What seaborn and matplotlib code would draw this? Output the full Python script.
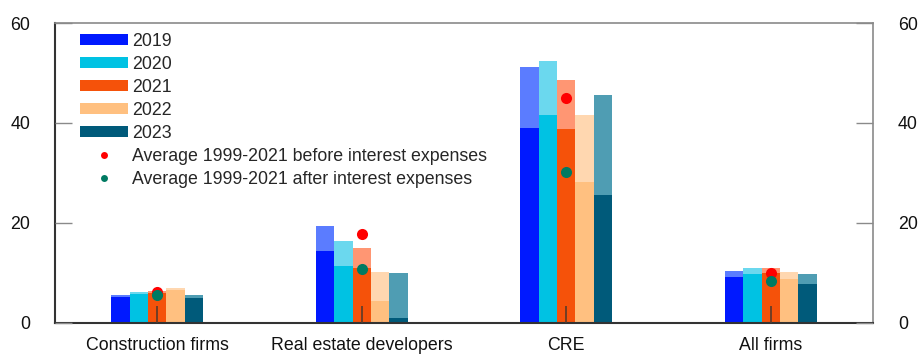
import matplotlib
matplotlib.use("Agg")
import matplotlib.pyplot as plt
from matplotlib.patches import Patch
from matplotlib.lines import Line2D
import pandas as pd
import seaborn as sns

sns.set_theme(style="white")
plt.rcParams["font.family"] = ["Liberation Sans", "DejaVu Sans"]

# Sectors and years
sectors = ["Construction firms", "Real estate developers", "CRE", "All firms"]
years = ["2019", "2020", "2021", "2022", "2023"]

# Return ratio before interest expenses, per year (rows) and sector (columns)
before_interest = {
    "2019": [5.5, 19.3, 51.1, 10.3],
    "2020": [6.1, 16.3, 52.3, 10.9],
    "2021": [6.4, 14.9, 48.5, 10.9],
    "2022": [6.9, 10.1, 41.5, 10.1],
    "2023": [5.5, 9.9, 45.5, 9.7],
}
# Return ratio after interest expenses
after_interest = {
    "2019": [5.1, 14.3, 38.9, 9.1],
    "2020": [5.7, 11.3, 41.5, 9.7],
    "2021": [5.9, 10.9, 38.7, 9.9],
    "2022": [6.5, 4.4, 28.1, 8.7],
    "2023": [4.9, 0.9, 25.5, 7.7],
}
# Historical averages 1999-2021
avg_before = [6.1, 17.7, 44.9, 9.9]
avg_after = [5.5, 10.7, 30.2, 8.3]

dark_colors = ["#0019ff", "#00c2e3", "#f5520a", "#ffc080", "#005a7a"]
light_colors = ["#5b7cff", "#6bd8ee", "#ff9673", "#ffd7b0", "#4f9db3"]

FS = 12.8


def long_frame(values):
    rows = []
    for y in years:
        for s, v in zip(sectors, values[y]):
            rows.append({"sector": s, "year": y, "value": v})
    return pd.DataFrame(rows)


df_before = long_frame(before_interest)
df_after = long_frame(after_interest)

fig, ax = plt.subplots(figsize=(9.22, 3.54), dpi=100)
fig.subplots_adjust(left=0.0597, right=0.9469, top=0.935, bottom=0.0884)

bar_kw = dict(x="sector", y="value", hue="year", order=sectors, hue_order=years,
              width=0.45, dodge=True, errorbar=None, saturation=1, linewidth=0,
              legend=False, ax=ax)
sns.barplot(data=df_before, palette=light_colors, **bar_kw)
sns.barplot(data=df_after, palette=dark_colors, **bar_kw)

sns.stripplot(x=sectors, y=avg_before, order=sectors, jitter=False, color="#ff0000",
              size=8, linewidth=0, ax=ax, zorder=5)
sns.stripplot(x=sectors, y=avg_after, order=sectors, jitter=False, color="#007a62",
              size=8, linewidth=0, ax=ax, zorder=5)

ax.set_xlim(-0.5, 3.5)
ax.set_ylim(0, 60)
ax.set_yticks([0, 20, 40, 60])
ax.set_xlabel("")
ax.set_ylabel("")
ax.set_axisbelow(False)

for side in ["left", "bottom"]:
    ax.spines[side].set_color("#333333")
    ax.spines[side].set_linewidth(1.5)
for side in ["top", "right"]:
    ax.spines[side].set_color("#8a8a8a")
    ax.spines[side].set_linewidth(1.2)

ax.tick_params(axis="y", which="both", direction="in", length=12, width=1,
               color="#8a8a8a", left=True, right=True, labelleft=True,
               labelright=True, labelsize=FS, pad=18, labelcolor="#111111")
ax.tick_params(axis="x", direction="in", length=12, width=1.2, color="#5a3a2a",
               bottom=True, labelsize=FS, pad=10.5, labelcolor="#111111")

handles = [Patch(facecolor=c, edgecolor="none") for c in dark_colors]
handles += [
    Line2D([], [], linestyle="none", marker="o", markersize=5,
           markerfacecolor="#ff0000", markeredgewidth=0),
    Line2D([], [], linestyle="none", marker="o", markersize=5,
           markerfacecolor="#007a62", markeredgewidth=0),
]
labels = years + ["Average 1999-2021 before interest expenses",
                  "Average 1999-2021 after interest expenses"]
ax.legend(handles, labels, loc="upper left", bbox_to_anchor=(0.0306, 0.968),
          frameon=False, borderpad=0, borderaxespad=0, fontsize=FS,
          handlelength=2.7, handleheight=0.62, handletextpad=0.22,
          labelspacing=0.34)

fig.savefig("out.png", dpi=100)
